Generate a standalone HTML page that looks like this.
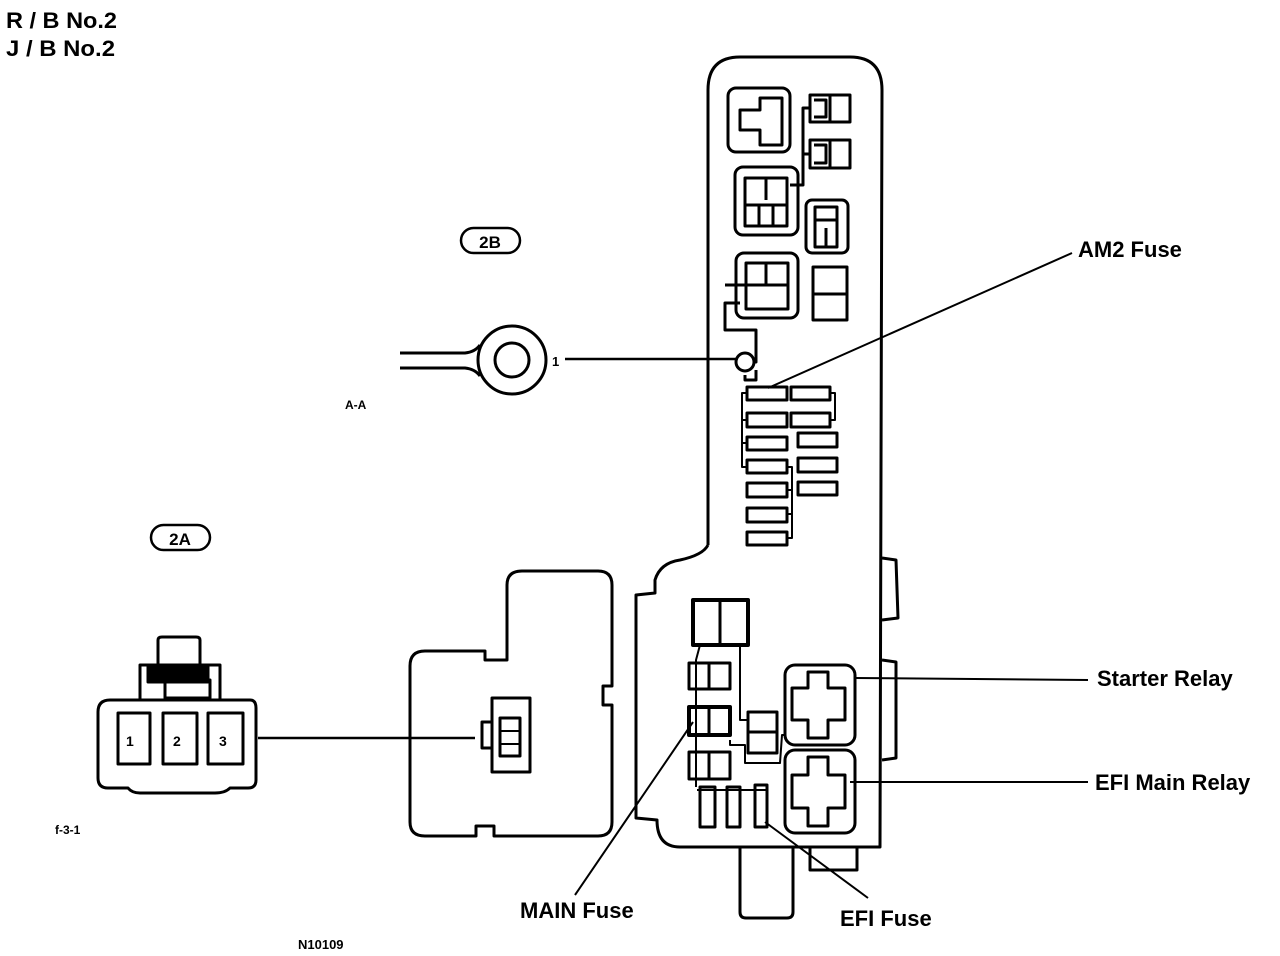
<!DOCTYPE html>
<html><head><style>
html,body{margin:0;padding:0;background:#fff;}
svg{display:block;}
text{font-family:"Liberation Sans",sans-serif;font-weight:bold;fill:#000;}
</style></head><body>
<svg width="1280" height="956" viewBox="0 0 1280 956" xmlns="http://www.w3.org/2000/svg">
<g fill="none" stroke="#000" stroke-width="3" stroke-linejoin="round">
<path d="M708,545 L708,90 Q708,57 740,57 L850,57 Q882,57 882,90 L880,847 L680,847 Q657,847 657,820 L636,818 L636,595 L655,593 L655,580 Q660,563 680,560 Q703,555 708,545"/>
<path d="M740,847 L740,912 Q740,918 746,918 L787,918 Q793,918 793,912 L793,847"/>
<path d="M810,847 L810,870 L857,870 L857,847"/>
<path d="M882,558 L896,560 L898,618 L882,620"/>
<path d="M882,660 L896,662 L896,758 L882,760"/>
<path d="M485,651 L425,651 Q410,651 410,666 L410,822 Q410,836 425,836 L476,836 L476,826 L494,826 L494,836 L598,836 Q612,836 612,822 L612,705 L603,705 L603,686 L612,686 L612,585 Q612,571 598,571 L522,571 Q507,571 507,585 L507,660 L485,660 Z"/>
<path d="M110,700 L250,700 Q256,700 256,708 L256,780 Q256,788 248,788 L230,788 Q225,793 215,793 L140,793 Q132,793 128,788 L108,788 Q98,788 98,778 L98,712 Q98,700 110,700 Z"/>
<path d="M140,700 L140,665 L220,665 L220,700"/>
<path d="M158,665 L158,640 Q158,637 162,637 L196,637 Q200,637 200,640 L200,665"/>
<rect x="165" y="680" width="45" height="18"/>
<rect x="148" y="666" width="60" height="16" fill="#000"/>
<rect x="118" y="713" width="32" height="51"/>
<rect x="163" y="713" width="34" height="51"/>
<rect x="208" y="713" width="35" height="51"/>
<path d="M258,738 L475,738" stroke-width="2.5"/>
<rect x="492" y="698" width="38" height="74"/>
<rect x="500" y="718" width="20" height="38"/>
<path d="M500,731 L520,731 M500,744 L520,744" stroke-width="2"/>
<path d="M492,722 L482,722 L482,748 L492,748" />
<circle cx="512" cy="360" r="34"/>
<circle cx="512" cy="360" r="17"/>
<path d="M400,353 L465,353 Q475,352 480,345 M400,368 L465,368 Q475,369 480,376"/>
<path d="M565,359 L736,359" stroke-width="2.5"/>
<circle cx="745" cy="362" r="9"/>
<path d="M754,362 L756,362 L756,330 L725,330 L725,303 L740,303 M725,285 L750,285 M745,375 L745,380 L756,380 L756,370"/>
<rect x="728" y="88" width="62" height="64" rx="8"/>
<path d="M740,110 L760,110 L760,98 L782,98 L782,145 L760,145 L760,130 L740,130 Z" stroke-width="3"/>
<rect x="810" y="95" width="40" height="27"/><path d="M830,95 L830,122 M814,100 L826,100 L826,117 L814,117"/>
<rect x="810" y="140" width="40" height="28"/><path d="M830,140 L830,168 M814,145 L826,145 L826,163 L814,163"/>
<path d="M810,108 L803,108 L803,185 L790,185 M810,154 L803,154"/>
<rect x="735" y="167" width="63" height="68" rx="8"/>
<rect x="745" y="178" width="42" height="48"/><path d="M745,205 L787,205 M759,205 L759,226 M773,205 L773,226 M766,178 L766,200"/>
<rect x="806" y="200" width="42" height="53" rx="6"/>
<rect x="815" y="207" width="22" height="40"/><path d="M815,220 L837,220 M826,228 L826,247"/>
<rect x="736" y="253" width="62" height="65" rx="8"/>
<rect x="746" y="263" width="42" height="46"/><path d="M746,285 L788,285 M766,263 L766,285"/>
<rect x="813" y="267" width="34" height="53"/><path d="M813,294 L847,294"/>
<g stroke-width="3">
<rect x="747" y="387" width="40" height="13"/><rect x="791" y="387" width="39" height="13"/>
<rect x="747" y="413" width="40" height="14"/><rect x="791" y="413" width="39" height="14"/>
<rect x="747" y="437" width="40" height="13"/><rect x="798" y="433" width="39" height="14"/>
<rect x="747" y="460" width="40" height="13"/><rect x="798" y="458" width="39" height="14"/>
<rect x="747" y="483" width="40" height="14"/><rect x="798" y="482" width="39" height="13"/>
<rect x="747" y="508" width="40" height="14"/>
<rect x="747" y="532" width="40" height="13"/>
</g>
<path d="M747,393 L742,393 L742,467 L747,467 M742,420 L747,420 M742,443 L747,443 M830,393 L835,393 L835,420 L830,420 M787,467 L792,467 L792,538 L787,538 M792,490 L787,490 M792,514 L787,514" stroke-width="2"/>
<rect x="693" y="600" width="55" height="45" stroke-width="4"/><path d="M720,600 L720,645"/>
<rect x="689" y="663" width="41" height="26"/><path d="M709,663 L709,689"/>
<rect x="689" y="707" width="41" height="28" stroke-width="4"/><path d="M709,707 L709,735"/>
<rect x="689" y="752" width="41" height="27"/><path d="M709,752 L709,779"/>
<rect x="748" y="712" width="29" height="41"/><path d="M748,732 L777,732"/>
<rect x="700" y="787" width="15" height="40"/>
<rect x="727" y="787" width="13" height="40"/>
<rect x="755" y="785" width="12" height="42"/>
<path d="M700,645 L696,660 L696,787 M740,645 L740,720 L748,720 M730,740 L730,745 L745,745 L745,763 L780,763 L782,735 L785,735 M697,790 L767,790" stroke-width="2"/>
<rect x="785" y="665" width="70" height="80" rx="10"/>
<path d="M808,672 L828,672 L828,688 L845,688 L845,720 L828,720 L828,738 L808,738 L808,720 L792,720 L792,688 L808,688 Z"/>
<rect x="785" y="750" width="70" height="83" rx="10"/>
<path d="M808,757 L828,757 L828,775 L845,775 L845,808 L828,808 L828,826 L808,826 L808,808 L792,808 L792,775 L808,775 Z"/>
<rect x="461" y="228" width="59" height="25" rx="12.5" stroke-width="2.5"/>
<rect x="151" y="525" width="59" height="25" rx="12.5" stroke-width="2.5"/>
<path d="M1072,253 L768,388 M1088,680 L855,678 M1088,782 L850,782 M575,895 L693,722 M868,898 L765,822" stroke-width="2"/>
</g>
<text x="126" y="746" font-size="14">1</text>
<text x="173" y="746" font-size="14">2</text>
<text x="219" y="746" font-size="14">3</text>
<text x="552" y="366" font-size="13" font-weight="normal">1</text>
<text x="6" y="28" font-size="22" textLength="111" lengthAdjust="spacingAndGlyphs">R / B No.2</text>
<text x="6" y="56" font-size="22" textLength="109" lengthAdjust="spacingAndGlyphs">J / B No.2</text>
<text x="490" y="248" font-size="17" text-anchor="middle">2B</text>
<text x="180" y="545" font-size="17" text-anchor="middle">2A</text>
<text x="345" y="409" font-size="12" font-weight="normal">A-A</text>
<text x="55" y="834" font-size="12" font-weight="normal">f-3-1</text>
<text x="298" y="949" font-size="13" font-weight="normal">N10109</text>
<text x="1078" y="257" font-size="22" font-weight="normal">AM2 Fuse</text>
<text x="1097" y="686" font-size="22" font-weight="normal">Starter Relay</text>
<text x="1095" y="790" font-size="22" font-weight="normal">EFI Main Relay</text>
<text x="520" y="918" font-size="22" font-weight="normal">MAIN Fuse</text>
<text x="840" y="926" font-size="22" font-weight="normal">EFI Fuse</text>
</svg>
</body></html>
